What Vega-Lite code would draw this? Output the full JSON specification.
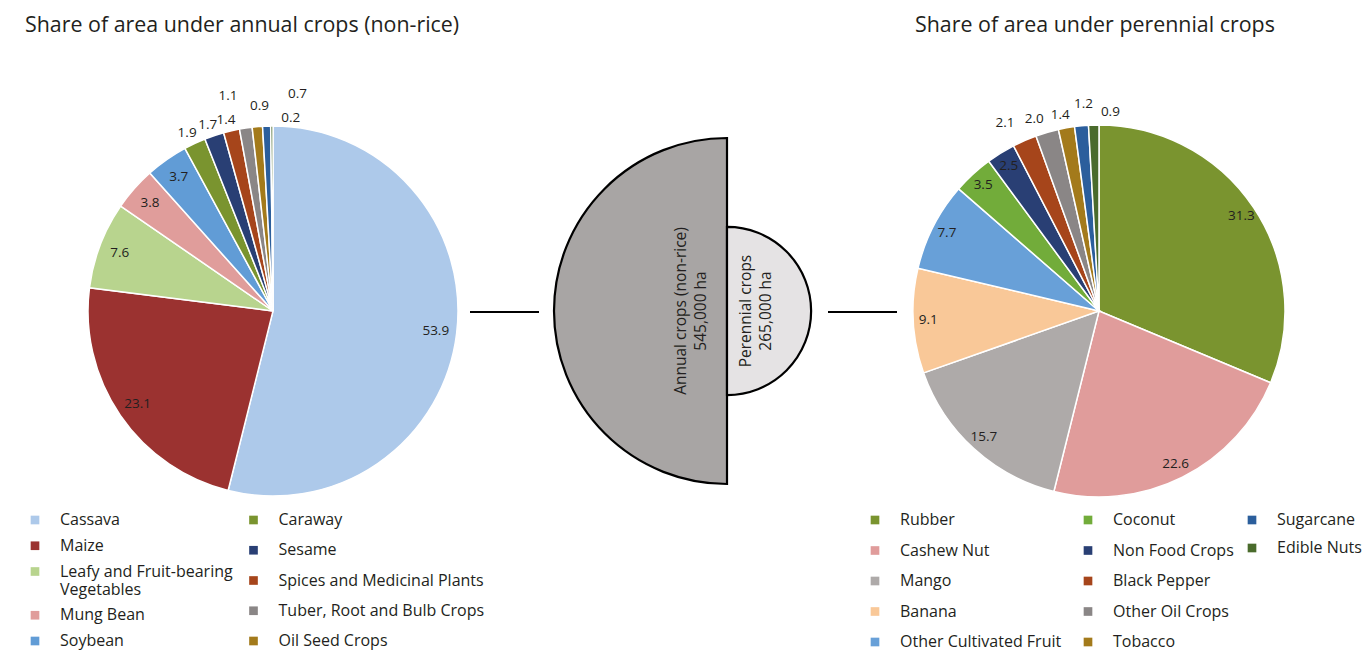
{
  "$schema": "https://vega.github.io/schema/vega-lite/v6.json",
  "padding": {"left": 0, "top": 14, "right": 0, "bottom": 0},
  "autosize": {"type": "pad"},
  "background": "white",
  "config": {
    "view": {"stroke": null},
    "font": "Open Sans",
    "title": {"font": "Open Sans", "fontSize": 21.4, "fontWeight": "normal", "color": "#231f20", "anchor": "start", "frame": "group", "baseline": "alphabetic", "offset": 26},
    "legend": {"labelFont": "Open Sans", "labelFontSize": 16, "labelColor": "#231f20", "symbolType": "square", "symbolSize": 75, "symbolStrokeWidth": 0, "labelLimit": 400, "padding": 0, "orient": "none"},
    "text": {"font": "Open Sans", "fill": "#231f20"}
  },
  "spacing": 0,
  "bounds": "flush",
  "resolve": {"scale": {"color": "independent", "fill": "independent", "theta": "independent", "radius": "independent"}, "legend": {"color": "independent", "fill": "independent"}},
  "hconcat": [
    {
      "width": 546,
      "height": 498,
      "title": {"text": "Share of area under annual crops (non-rice)", "dx": 25},
      "data": {"values": [
        {"crop": "Cassava", "share": 53.9},
        {"crop": "Maize", "share": 23.1},
        {"crop": "Leafy and Fruit-bearing Vegetables", "share": 7.6},
        {"crop": "Mung Bean", "share": 3.8},
        {"crop": "Soybean", "share": 3.7},
        {"crop": "Caraway", "share": 1.9},
        {"crop": "Sesame", "share": 1.7},
        {"crop": "Spices and Medicinal Plants", "share": 1.4},
        {"crop": "Tuber, Root and Bulb Crops", "share": 1.1},
        {"crop": "Oil Seed Crops", "share": 0.9},
        {"crop": "Sugarcane", "share": 0.7},
        {"crop": "Other Annual Crops", "share": 0.2}
      ]},
      "encoding": {
        "theta": {"field": "share", "type": "quantitative", "stack": true},
        "order": {"field": "share", "type": "quantitative", "sort": "descending"},
        "detail": {"field": "crop", "type": "nominal"}
      },
      "layer": [
        {
          "mark": {"type": "arc", "outerRadius": 185, "stroke": "white", "strokeWidth": 1.5},
          "encoding": {
            "color": {
              "field": "crop", "type": "nominal",
              "scale": {
                "domain": ["Cassava", "Maize", "Leafy and Fruit-bearing Vegetables", "Mung Bean", "Soybean", "Caraway", "Sesame", "Spices and Medicinal Plants", "Tuber, Root and Bulb Crops", "Oil Seed Crops", "Sugarcane", "Other Annual Crops"],
                "range": ["#adc9ea", "#9b3230", "#b8d48e", "#e09d9b", "#619cd6", "#7a942f", "#293f74", "#a6451b", "#8a8686", "#a37a1b", "#2b5e9c", "#4a6b2c"]
              },
              "legend": {
                "title": null,
                "values": ["Cassava", "Maize", "Leafy and Fruit-bearing Vegetables", "Mung Bean", "Soybean"],
                "columns": 1,
                "rowPadding": 9.75,
                "labelOffset": 17,
                "legendX": 27,
                "legendY": 450,
                "labelExpr": "datum.label == 'Leafy and Fruit-bearing Vegetables' ? ['Leafy and Fruit-bearing', 'Vegetables'] : datum.label"
              }
            }
          }
        },
        {
          "mark": {"type": "arc", "outerRadius": 185, "stroke": "white", "strokeWidth": 1.5},
          "encoding": {
            "fill": {
              "field": "crop", "type": "nominal",
              "scale": {
                "domain": ["Caraway", "Sesame", "Spices and Medicinal Plants", "Tuber, Root and Bulb Crops", "Oil Seed Crops", "Cassava", "Maize", "Leafy and Fruit-bearing Vegetables", "Mung Bean", "Soybean", "Sugarcane", "Other Annual Crops"],
                "range": ["#7a942f", "#293f74", "#a6451b", "#8a8686", "#a37a1b", "#adc9ea", "#9b3230", "#b8d48e", "#e09d9b", "#619cd6", "#2b5e9c", "#4a6b2c"]
              },
              "legend": {
                "title": null,
                "values": ["Caraway", "Sesame", "Spices and Medicinal Plants", "Tuber, Root and Bulb Crops", "Oil Seed Crops"],
                "columns": 1,
                "rowPadding": 14.25,
                "labelOffset": 17,
                "legendX": 245.5,
                "legendY": 450
              }
            }
          }
        },
        {
          "mark": {"type": "text", "radius": 164, "fontSize": 13.5},
          "encoding": {"text": {"condition": {"test": "datum.share >= 3", "field": "share", "type": "quantitative", "format": ".1f"}, "value": ""}}
        },
        {
          "mark": {"type": "text", "radius": 196, "dx": -3, "fontSize": 13.5},
          "encoding": {"text": {"condition": {"test": "datum.crop == 'Caraway' || datum.crop == 'Sesame' || datum.crop == 'Spices and Medicinal Plants'", "field": "share", "type": "quantitative", "format": ".1f"}, "value": ""}}
        },
        {
          "mark": {"type": "text", "radius": 217, "dx": -13, "fontSize": 13.5},
          "encoding": {"text": {"condition": {"test": "datum.crop == 'Tuber, Root and Bulb Crops'", "field": "share", "type": "quantitative", "format": ".1f"}, "value": ""}}
        },
        {
          "mark": {"type": "text", "radius": 206, "dx": 4, "fontSize": 13.5},
          "encoding": {"text": {"condition": {"test": "datum.crop == 'Oil Seed Crops'", "field": "share", "type": "quantitative", "format": ".1f"}, "value": ""}}
        },
        {
          "mark": {"type": "text", "radius": 217, "dx": 32, "fontSize": 13.5},
          "encoding": {"text": {"condition": {"test": "datum.crop == 'Sugarcane'", "field": "share", "type": "quantitative", "format": ".1f"}, "value": ""}}
        },
        {
          "mark": {"type": "text", "radius": 193, "dx": 19, "fontSize": 13.5},
          "encoding": {"text": {"condition": {"test": "datum.crop == 'Other Annual Crops'", "field": "share", "type": "quantitative", "format": ".1f"}, "value": ""}}
        }
      ]
    },
    {
      "width": 362,
      "height": 498,
      "data": {"values": [
        {"type": "Annual crops (non-rice)", "area_ha": 545000, "label": "Annual crops (non-rice)|545,000 ha"},
        {"type": "Perennial crops", "area_ha": 265000, "label": "Perennial crops|265,000 ha"}
      ]},
      "layer": [
        {
          "data": {"values": [{"connector": "annual"}]},
          "mark": {"type": "rule", "stroke": "black", "strokeWidth": 1.8},
          "encoding": {"x": {"value": -76}, "x2": {"value": -7}, "y": {"value": 250}}
        },
        {
          "data": {"values": [{"connector": "perennial"}]},
          "mark": {"type": "rule", "stroke": "black", "strokeWidth": 1.8},
          "encoding": {"x": {"value": 282}, "x2": {"value": 351}, "y": {"value": 250}}
        },
        {
          "transform": [
            {"aggregate": [{"op": "count", "as": "n"}], "groupby": ["type", "area_ha"]},
            {"stack": "n", "groupby": [], "sort": [{"field": "area_ha", "order": "ascending"}], "as": ["t0", "t1"]}
          ],
          "mark": {"type": "arc", "stroke": "black", "strokeWidth": 2.2},
          "encoding": {
            "theta": {"field": "t0", "type": "quantitative", "scale": {"domain": [0, 2]}},
            "theta2": {"field": "t1"},
            "radius": {"field": "area_ha", "type": "quantitative", "scale": {"type": "linear", "domain": [0, 545000], "range": [0, 173]}},
            "color": {"field": "type", "type": "nominal", "scale": {"domain": ["Annual crops (non-rice)", "Perennial crops"], "range": ["#a8a5a4", "#e5e3e4"]}, "legend": null}
          }
        },
        {
          "mark": {"type": "text", "radius": 46.5, "angle": 270, "lineBreak": "|", "lineHeight": 20, "fontSize": 15.5, "align": "center", "baseline": "middle"},
          "encoding": {
            "theta": {"aggregate": "count", "type": "quantitative", "stack": true},
            "order": {"field": "type", "type": "nominal", "sort": "descending"},
            "detail": {"field": "type", "type": "nominal"},
            "text": {"condition": {"test": "datum.type == 'Annual crops (non-rice)'", "field": "label"}, "value": ""}
          }
        },
        {
          "mark": {"type": "text", "radius": 18.5, "angle": 270, "lineBreak": "|", "lineHeight": 20, "fontSize": 15.5, "align": "center", "baseline": "middle"},
          "encoding": {
            "theta": {"aggregate": "count", "type": "quantitative", "stack": true},
            "order": {"field": "type", "type": "nominal", "sort": "descending"},
            "detail": {"field": "type", "type": "nominal"},
            "text": {"condition": {"test": "datum.type == 'Perennial crops'", "field": "label"}, "value": ""}
          }
        }
      ]
    },
    {
      "width": 382,
      "height": 498,
      "title": {"text": "Share of area under perennial crops", "dx": 7},
      "data": {"values": [
        {"crop": "Rubber", "share": 31.3},
        {"crop": "Cashew Nut", "share": 22.6},
        {"crop": "Mango", "share": 15.7},
        {"crop": "Banana", "share": 9.1},
        {"crop": "Other Cultivated Fruit", "share": 7.7},
        {"crop": "Coconut", "share": 3.5},
        {"crop": "Non Food Crops", "share": 2.5},
        {"crop": "Black Pepper", "share": 2.1},
        {"crop": "Other Oil Crops", "share": 2.0},
        {"crop": "Tobacco", "share": 1.4},
        {"crop": "Sugarcane", "share": 1.2},
        {"crop": "Edible Nuts", "share": 0.9}
      ]},
      "encoding": {
        "theta": {"field": "share", "type": "quantitative", "stack": true},
        "order": {"field": "share", "type": "quantitative", "sort": "descending"},
        "detail": {"field": "crop", "type": "nominal"}
      },
      "layer": [
        {
          "mark": {"type": "arc", "outerRadius": 186, "stroke": "white", "strokeWidth": 1.5},
          "encoding": {
            "color": {
              "field": "crop", "type": "nominal",
              "scale": {
                "domain": ["Rubber", "Cashew Nut", "Mango", "Banana", "Other Cultivated Fruit", "Coconut", "Non Food Crops", "Black Pepper", "Other Oil Crops", "Tobacco", "Sugarcane", "Edible Nuts"],
                "range": ["#7a942f", "#e09c9b", "#aeaaa9", "#f9c898", "#68a0d8", "#72ac3a", "#293f74", "#a6451b", "#8a8686", "#a37a1b", "#2b5e9c", "#4a6b2c"]
              },
              "legend": {
                "title": null,
                "values": ["Rubber", "Cashew Nut", "Mango", "Banana", "Other Cultivated Fruit", "Coconut", "Non Food Crops", "Black Pepper", "Other Oil Crops", "Tobacco"],
                "columns": 2,
                "columnPadding": 18,
                "rowPadding": 14.5,
                "labelOffset": 17,
                "legendX": -41,
                "legendY": 450
              }
            }
          }
        },
        {
          "mark": {"type": "arc", "outerRadius": 186, "stroke": "white", "strokeWidth": 1.5},
          "encoding": {
            "fill": {
              "field": "crop", "type": "nominal",
              "scale": {
                "domain": ["Sugarcane", "Edible Nuts", "Rubber", "Cashew Nut", "Mango", "Banana", "Other Cultivated Fruit", "Coconut", "Non Food Crops", "Black Pepper", "Other Oil Crops", "Tobacco"],
                "range": ["#2b5e9c", "#4a6b2c", "#7a942f", "#e09c9b", "#aeaaa9", "#f9c898", "#68a0d8", "#72ac3a", "#293f74", "#a6451b", "#8a8686", "#a37a1b"]
              },
              "legend": {
                "title": null,
                "values": ["Sugarcane", "Edible Nuts"],
                "columns": 1,
                "rowPadding": 12,
                "labelOffset": 17,
                "legendX": 336,
                "legendY": 450
              }
            }
          }
        },
        {
          "mark": {"type": "text", "radius": 171, "fontSize": 13.5},
          "encoding": {"text": {"condition": {"test": "datum.share >= 2.5", "field": "share", "type": "quantitative", "format": ".1f"}, "value": ""}}
        },
        {
          "mark": {"type": "text", "radius": 205, "dx": -12, "fontSize": 13.5},
          "encoding": {"text": {"condition": {"test": "datum.crop == 'Black Pepper'", "field": "share", "type": "quantitative", "format": ".1f"}, "value": ""}}
        },
        {
          "mark": {"type": "text", "radius": 200, "dx": -9, "fontSize": 13.5},
          "encoding": {"text": {"condition": {"test": "datum.crop == 'Other Oil Crops'", "field": "share", "type": "quantitative", "format": ".1f"}, "value": ""}}
        },
        {
          "mark": {"type": "text", "radius": 199, "dx": -4, "fontSize": 13.5},
          "encoding": {"text": {"condition": {"test": "datum.crop == 'Tobacco'", "field": "share", "type": "quantitative", "format": ".1f"}, "value": ""}}
        },
        {
          "mark": {"type": "text", "radius": 208, "dx": 4, "fontSize": 13.5},
          "encoding": {"text": {"condition": {"test": "datum.crop == 'Sugarcane'", "field": "share", "type": "quantitative", "format": ".1f"}, "value": ""}}
        },
        {
          "mark": {"type": "text", "radius": 199, "dx": 17, "fontSize": 13.5},
          "encoding": {"text": {"condition": {"test": "datum.crop == 'Edible Nuts'", "field": "share", "type": "quantitative", "format": ".1f"}, "value": ""}}
        }
      ]
    }
  ]
}
